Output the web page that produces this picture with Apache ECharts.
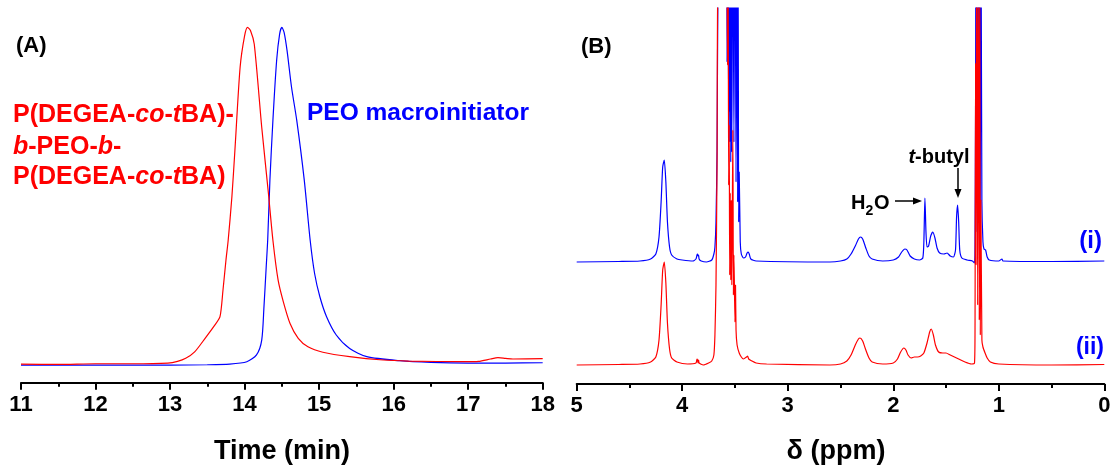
<!DOCTYPE html>
<html>
<head>
<meta charset="utf-8">
<script src="https://cdn.jsdelivr.net/npm/echarts@6/dist/echarts.min.js"></script>
<style>
  html, body { margin: 0; padding: 0; background: #ffffff; }
  #chart { width: 1115px; height: 469px; }
</style>
</head>
<body>
<div id="chart"></div>
<script>
// ---- (A) GPC traces: [elution time (min), normalized RI signal] ----
const gpcCopolymer = [
  [11, 0.005], [11.5, 0.004], [12, 0.006], [12.5, 0.006], [12.97, 0.008],
  [13.1, 0.013], [13.21, 0.022], [13.33, 0.041], [13.47, 0.081], [13.6, 0.12],
  [13.67, 0.145], [13.71, 0.223], [13.75, 0.312], [13.78, 0.371], [13.83, 0.5],
  [13.87, 0.636], [13.94, 0.882], [14.0, 0.975], [14.04, 1.0], [14.08, 0.99],
  [14.13, 0.95], [14.23, 0.705], [14.32, 0.509], [14.38, 0.371], [14.45, 0.253],
  [14.52, 0.189], [14.61, 0.125], [14.72, 0.081], [14.85, 0.056], [15.05, 0.04],
  [15.41, 0.027], [15.86, 0.017], [16.2, 0.014], [16.95, 0.012], [17.14, 0.013],
  [17.3, 0.02], [17.4, 0.024], [17.5, 0.022], [17.6, 0.02], [18, 0.021]
];
const gpcMacroinitiator = [
  [11, 0.002], [12, 0.002], [13, 0.002], [13.5, 0.003], [13.8, 0.005],
  [14.03, 0.012], [14.16, 0.032], [14.23, 0.076], [14.26, 0.174], [14.29, 0.292],
  [14.31, 0.371], [14.34, 0.55], [14.38, 0.725], [14.43, 0.902], [14.47, 0.98],
  [14.5, 1.0], [14.53, 0.985], [14.57, 0.931], [14.63, 0.823], [14.7, 0.725],
  [14.8, 0.55], [14.88, 0.371], [14.94, 0.272], [15.01, 0.204], [15.1, 0.145],
  [15.23, 0.091], [15.41, 0.051], [15.64, 0.027], [16.08, 0.015], [16.5, 0.01],
  [17, 0.008], [17.5, 0.008], [18, 0.009]
];
const gpcTicks = [11, 12, 13, 14, 15, 16, 17, 18];

// ---- (B) 1H NMR spectra: [chemical shift (ppm), intensity above own baseline] ----
const nmrMacro = [
  [5.0, 0], [4.6, 0.5], [4.4, 1], [4.3, 3], [4.25, 8], [4.22, 25], [4.2, 60], [4.185, 95],
  [4.17, 102], [4.155, 80], [4.14, 40], [4.12, 15], [4.1, 7], [4.05, 3], [4.0, 2], [3.9, 1],
  [3.87, 3], [3.86, 7], [3.855, 8], [3.85, 6], [3.845, 7], [3.84, 3], [3.82, 1], [3.77, 0],
  [3.72, 2], [3.7, 8], [3.69, 15], [3.68, 40], [3.67, 110], [3.66, 300], [3.64, 400],
  [3.62, 400], [3.6, 400], [3.59, 300], [3.58, 400], [3.575, 200], [3.57, 380], [3.56, 150],
  [3.555, 330], [3.55, 120], [3.545, 300], [3.54, 100], [3.535, 280], [3.53, 110], [3.52, 380],
  [3.51, 120], [3.5, 380], [3.49, 80], [3.485, 370], [3.475, 60], [3.47, 300], [3.465, 40],
  [3.46, 90], [3.45, 20], [3.44, 8], [3.42, 4], [3.4, 5], [3.385, 9], [3.375, 10], [3.365, 8],
  [3.35, 3], [3.3, 1], [2.6, 0], [2.5, 1], [2.44, 3], [2.4, 8], [2.36, 16], [2.33, 23],
  [2.31, 25], [2.29, 23], [2.26, 14], [2.23, 6], [2.2, 3], [2.1, 1], [2.0, 2], [1.95, 5],
  [1.92, 10], [1.89, 13], [1.87, 12], [1.84, 6], [1.8, 3], [1.75, 2], [1.72, 4], [1.71, 20],
  [1.7, 64], [1.69, 30], [1.68, 15], [1.665, 16], [1.645, 26], [1.625, 30], [1.605, 24],
  [1.585, 14], [1.56, 9], [1.52, 8], [1.49, 9], [1.46, 6], [1.43, 5], [1.41, 12], [1.4, 45],
  [1.39, 57], [1.38, 40], [1.37, 12], [1.35, 4], [1.3, 2], [1.25, 1], [1.23, -1], [1.225, 20],
  [1.22, 150], [1.215, 400], [1.205, 30], [1.2, 400], [1.19, 40], [1.185, 400], [1.175, 30],
  [1.17, 400], [1.16, 60], [1.15, 20], [1.14, 13], [1.125, 12], [1.11, 5], [1.09, 2],
  [1.0, 1], [0.97, 3], [0.96, 1], [0.5, 0.5], [0, 1]
];
const nmrCopolymer = [
  [5.0, 0], [4.6, 0.5], [4.4, 1], [4.3, 3], [4.25, 8], [4.22, 25], [4.2, 60], [4.185, 95],
  [4.17, 103], [4.155, 82], [4.14, 42], [4.12, 16], [4.1, 7], [4.05, 3], [3.95, 1], [3.87, 2],
  [3.86, 6], [3.855, 5], [3.85, 2], [3.845, 5], [3.84, 2], [3.8, 0], [3.75, 2], [3.72, 4],
  [3.7, 10], [3.69, 30], [3.68, 80], [3.67, 200], [3.66, 400], [3.62, 410], [3.6, 410],
  [3.58, 410], [3.57, 300], [3.565, 410], [3.56, 180], [3.555, 240], [3.55, 90], [3.545, 172],
  [3.54, 85], [3.535, 165], [3.53, 80], [3.52, 235], [3.515, 70], [3.51, 110], [3.5, 43],
  [3.495, 80], [3.49, 35], [3.48, 20], [3.46, 12], [3.44, 8], [3.42, 6], [3.39, 8], [3.38, 9],
  [3.37, 6], [3.34, 4], [3.3, 2], [3.2, 1], [2.6, 0], [2.5, 1], [2.44, 4], [2.4, 10],
  [2.36, 20], [2.33, 26], [2.315, 27], [2.29, 24], [2.26, 15], [2.23, 7], [2.2, 3], [2.1, 1],
  [2.0, 2], [1.96, 6], [1.93, 13], [1.9, 17], [1.88, 15], [1.86, 10], [1.83, 7], [1.8, 8],
  [1.77, 8], [1.74, 9], [1.71, 12], [1.68, 22], [1.655, 33], [1.64, 36], [1.62, 30],
  [1.6, 20], [1.57, 13], [1.53, 12], [1.5, 12], [1.46, 10], [1.42, 8], [1.38, 6], [1.32, 3],
  [1.26, 1], [1.23, 2], [1.225, 40], [1.22, 302], [1.215, 100], [1.21, 410], [1.2, 60],
  [1.195, 410], [1.185, 45], [1.18, 400], [1.175, 30], [1.17, 165], [1.16, 25], [1.15, 18],
  [1.13, 12], [1.11, 7], [1.08, 3], [1.0, 1], [0.5, 0], [0, 0.5]
];
const nmrTicks = [5, 4, 3, 2, 1, 0];
// vertical shift of trace (i) above trace (ii)
const stackOffset = 103;

const RED = '#ff0000';
const BLUE = '#0000ff';
const FONT = '"Liberation Sans", Arial, sans-serif';

const chart = echarts.init(document.getElementById('chart'), null, { renderer: 'canvas' });

function xAxisBase(gridIndex, min, max, inverse) {
  return {
    type: 'value', gridIndex, min, max, interval: 1, inverse,
    axisLine: { show: true, onZero: false, lineStyle: { color: '#000', width: 2 } },
    axisTick: { show: true, inside: false, length: 7, lineStyle: { color: '#000', width: 2 } },
    minorTick: { show: true, splitNumber: 2, length: 4, lineStyle: { color: '#000', width: 2 } },
    splitLine: { show: false },
    axisLabel: {
      margin: 11, color: '#000', fontFamily: FONT, fontWeight: 'bold', fontSize: 22,
      showMinLabel: true, showMaxLabel: true
    }
  };
}

const lineStyle = (c) => ({ color: c, width: 1.2 });

const option = {
  backgroundColor: '#ffffff',
  animation: false,
  grid: [
    { left: 21, right: 572.3, top: 26, bottom: 86.3 },
    { left: 576.7, right: 10.7, top: 8, bottom: 85 }
  ],
  xAxis: [
    xAxisBase(0, 11, 18, false),
    xAxisBase(1, 0, 5, true)
  ],
  yAxis: [
    { type: 'value', gridIndex: 0, min: -0.05, max: 1.004, show: false },
    { type: 'value', gridIndex: 1, min: -19, max: 357, show: false }
  ],
  series: [
    {
      type: 'line', xAxisIndex: 0, yAxisIndex: 0, data: gpcMacroinitiator,
      showSymbol: false, smooth: 0.25, clip: true, lineStyle: lineStyle(BLUE)
    },
    {
      type: 'line', xAxisIndex: 0, yAxisIndex: 0, data: gpcCopolymer,
      showSymbol: false, smooth: 0.25, clip: true, lineStyle: lineStyle(RED)
    },
    {
      type: 'line', xAxisIndex: 1, yAxisIndex: 1,
      data: nmrMacro.map(([x, y]) => [x, y + stackOffset]),
      showSymbol: false, smooth: 0.2, clip: true, lineStyle: lineStyle(BLUE)
    },
    {
      type: 'line', xAxisIndex: 1, yAxisIndex: 1, data: nmrCopolymer,
      showSymbol: false, smooth: 0.2, clip: true, lineStyle: lineStyle(RED)
    }
  ],
  graphic: [
    // panel letters
    { type: 'text', x: 16, y: 46, style: { text: '(A)', font: 'bold 22px ' + FONT, fill: '#000', verticalAlign: 'middle' } },
    { type: 'text', x: 581, y: 47, style: { text: '(B)', font: 'bold 22px ' + FONT, fill: '#000', verticalAlign: 'middle' } },
    // series labels, panel A
    {
      type: 'text', x: 13, y: 115,
      style: {
        text: 'P(DEGEA-{i|co}-{i|t}BA)-', font: 'bold 25px ' + FONT, fill: RED, verticalAlign: 'middle',
        rich: { i: { font: 'italic bold 25px ' + FONT, fill: RED } }
      }
    },
    {
      type: 'text', x: 13, y: 147,
      style: {
        text: '{i|b}-PEO-{i|b}-', font: 'bold 25px ' + FONT, fill: RED, verticalAlign: 'middle',
        rich: { i: { font: 'italic bold 25px ' + FONT, fill: RED } }
      }
    },
    {
      type: 'text', x: 13, y: 177,
      style: {
        text: 'P(DEGEA-{i|co}-{i|t}BA)', font: 'bold 25px ' + FONT, fill: RED, verticalAlign: 'middle',
        rich: { i: { font: 'italic bold 25px ' + FONT, fill: RED } }
      }
    },
    { type: 'text', x: 307, y: 113, style: { text: 'PEO macroinitiator', font: 'bold 24.5px ' + FONT, fill: BLUE, verticalAlign: 'middle' } },
    // axis titles
    { type: 'text', x: 282, y: 452, style: { text: 'Time (min)', font: 'bold 27px ' + FONT, fill: '#000', align: 'center', verticalAlign: 'middle' } },
    { type: 'text', x: 836, y: 452, style: { text: 'δ (ppm)', font: 'bold 27px ' + FONT, fill: '#000', align: 'center', verticalAlign: 'middle' } },
    // peak annotations, panel B
    { type: 'text', x: 851, y: 203, style: { text: 'H', font: 'bold 20px ' + FONT, fill: '#000', verticalAlign: 'middle' } },
    { type: 'text', x: 865.5, y: 211, style: { text: '2', font: 'bold 14px ' + FONT, fill: '#000', verticalAlign: 'middle' } },
    { type: 'text', x: 874, y: 203, style: { text: 'O', font: 'bold 20px ' + FONT, fill: '#000', verticalAlign: 'middle' } },
    { type: 'line', shape: { x1: 895, y1: 201, x2: 914, y2: 201 }, style: { stroke: '#000', lineWidth: 1.5 } },
    { type: 'polygon', shape: { points: [[913, 197.5], [922, 201], [913, 204.5]] }, style: { fill: '#000' } },
    {
      type: 'text', x: 939, y: 157,
      style: {
        text: '{i|t}-butyl', font: 'bold 20px ' + FONT, fill: '#000', align: 'center', verticalAlign: 'middle',
        rich: { i: { font: 'italic bold 20px ' + FONT, fill: '#000' } }
      }
    },
    { type: 'line', shape: { x1: 958, y1: 168, x2: 958, y2: 190 }, style: { stroke: '#000', lineWidth: 1.5 } },
    { type: 'polygon', shape: { points: [[954.5, 189], [958, 198], [961.5, 189]] }, style: { fill: '#000' } },
    // trace labels
    { type: 'text', x: 1102, y: 241, style: { text: '(i)', font: 'bold 24px ' + FONT, fill: BLUE, align: 'right', verticalAlign: 'middle' } },
    { type: 'text', x: 1104, y: 348, style: { text: '(ii)', font: 'bold 23px ' + FONT, fill: BLUE, align: 'right', verticalAlign: 'middle' } }
  ]
};

chart.setOption(option);
</script>
</body>
</html>
